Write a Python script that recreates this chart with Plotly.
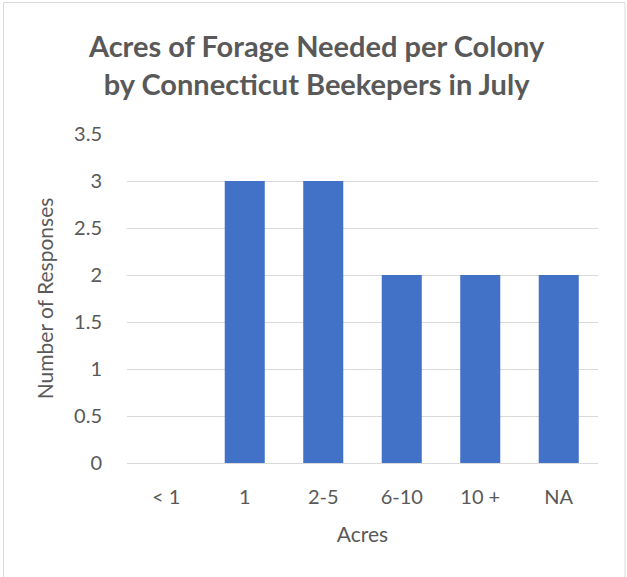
import plotly.graph_objects as go

categories = ["< 1", "1", "2-5", "6-10", "10 +", "NA"]
responses = [0, 3, 3, 2, 2, 2]
y_ticks = [0, 0.5, 1, 1.5, 2, 2.5, 3, 3.5]
y_tick_labels = ["0", "0.5", "1", "1.5", "2", "2.5", "3", "3.5"]

W, H = 627, 577
L, R, T, B = 127, 29, 134, 114
pw, ph = W - L - R, H - T - B

def px_x(px):
    return (px - L) / pw

def px_y(py):
    return (H - B - py) / ph

FONT = "Lato, 'Open Sans', sans-serif"
GREY = "#595959"

fig = go.Figure(
    go.Bar(
        x=categories,
        y=responses,
        marker=dict(color="#4272C8", line=dict(width=0)),
        width=0.51,
    )
)

fig.update_layout(
    width=W,
    height=H,
    margin=dict(l=L, r=R, t=T, b=B),
    paper_bgcolor="white",
    plot_bgcolor="white",
    showlegend=False,
    font=dict(family=FONT, color=GREY, size=20),
    title=dict(
        text="<b>Acres of Forage Needed per Colony<br>by Connecticut Beekepers in July</b>",
        x=0.505,
        xanchor="center",
        y=1 - 57 / H,
        yanchor="middle",
        yref="container",
        font=dict(family=FONT, size=29, color=GREY, lineposition="none"),
    ),
    xaxis=dict(
        title=dict(text="Acres", font=dict(size=21, color=GREY), standoff=20),
        showgrid=False,
        showline=False,
        zeroline=False,
        ticks="",
        ticklabelstandoff=20,
        tickfont=dict(size=20, color=GREY),
    ),
    yaxis=dict(
        title=dict(text="Number of Responses", font=dict(size=21, color=GREY), standoff=14),
        range=[0, 3.5],
        tickvals=y_ticks,
        ticktext=y_tick_labels,
        showgrid=True,
        gridcolor="#D9D9D9",
        gridwidth=1,
        zeroline=True,
        zerolinecolor="#D9D9D9",
        zerolinewidth=1,
        showline=False,
        ticks="",
        ticklabelstandoff=24,
        tickfont=dict(size=20, color=GREY),
    ),
    shapes=[
        dict(
            type="rect",
            xref="paper",
            yref="paper",
            x0=px_x(3.5),
            x1=px_x(625),
            y0=px_y(590),
            y1=px_y(2.5),
            line=dict(color="#D9D9D9", width=1),
            fillcolor="rgba(0,0,0,0)",
            layer="below",
        )
    ],
)

fig.write_html(
    "out.html",
    config={"displayModeBar": False},
    post_script="document.body.style.margin='0';document.body.style.overflow='hidden';",
)
